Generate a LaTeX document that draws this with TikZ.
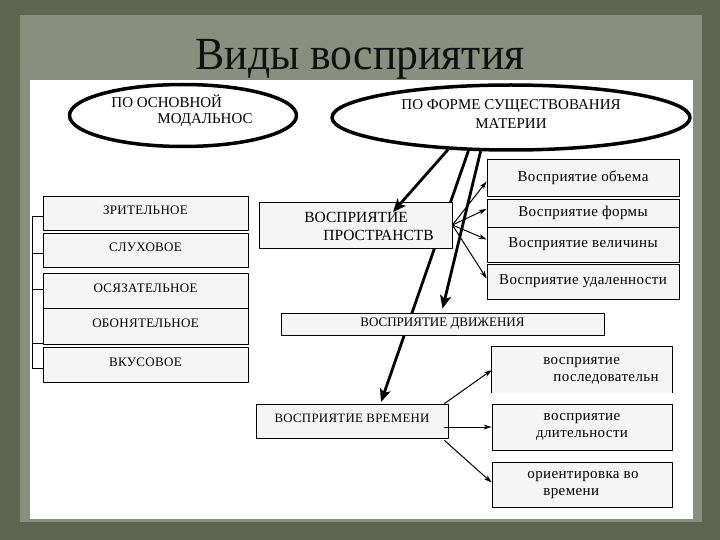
\documentclass[tikz,border=0pt]{standalone}
\usepackage{fontspec}
\setmainfont{Liberation Serif}
\newfontfamily\wideserif[LetterSpace=2.5]{Liberation Serif}
\usetikzlibrary{arrows.meta,shapes.geometric,positioning}
\definecolor{frameDark}{HTML}{5D6450}
\definecolor{paperGray}{HTML}{898E7E}
\definecolor{titleInk}{HTML}{101010}
\definecolor{boxFill}{HTML}{F5F5F5}
\tikzset{
 oval/.style={ellipse, draw, line width=3.5pt, fill=white, inner sep=0pt},
 cell/.style={draw, line width=0.8pt, fill=boxFill, inner sep=0pt},
 lbox/.style={cell, minimum width=205pt, font=\wideserif\fontsize{13}{15}\selectfont, text height=9pt, text depth=6pt},
 rbox/.style={cell, minimum width=192pt, font=\wideserif\fontsize{15}{17}\selectfont},
 tbox/.style={minimum width=180pt, minimum height=46pt, inner sep=0pt},
 tfont/.style={font=\wideserif\fontsize{15}{17}\selectfont},
 heavy/.style={line width=2.8pt, -{Stealth[length=13pt,width=11pt,inset=3pt]}},
 light/.style={line width=1pt, -{Stealth[length=8pt,width=5pt]}}
}
\begin{document}
\begin{tikzpicture}[x=1pt, y=-1pt, line join=round]
 \useasboundingbox (0,0) rectangle (720,540);
 % background and sheet
 \fill[frameDark] (0,0) rectangle (720,540);
 \fill[paperGray] (20,15) rectangle (702,522);
 \node[anchor=base, font=\fontsize{46}{50}\selectfont, text=titleInk, xscale=0.95] (title) at (360,70) {Виды восприятия};
 \fill[white] (30,80) rectangle (693,519);

 % the two ellipses
 \node[oval, minimum width=227pt, minimum height=62pt] (modal) at (183,115.5) {};
 \node[font=\fontsize{15}{16}\selectfont, align=left] (modaltxt) at (182,111) {ПО ОСНОВНОЙ\\\hspace{46pt}МОДАЛЬНОС};
 \node[oval, minimum width=358pt, minimum height=65pt] (matter) at (511,117.5) {};
 \node[font=\fontsize{15}{19}\selectfont, align=center] (mattertxt) at (511,114.5) {ПО ФОРМЕ СУЩЕСТВОВАНИЯ\\МАТЕРИИ};

 % long thick arrow behind the boxes
 \coordinate (tTip) at (381,402);
 \draw[heavy] (matter.218) -- (tTip);

 % by modality
 \node[lbox, minimum height=34pt] (zrit) at (145.5,213) {ЗРИТЕЛЬНОЕ};
 \node[lbox, minimum height=34pt] (sluh) at (145.5,250) {СЛУХОВОЕ};
 \node[lbox, minimum height=35pt] (osyaz) at (145.5,290.5) {ОСЯЗАТЕЛЬНОЕ};
 \node[lbox, minimum height=36pt] (obon) at (145.5,326) {ОБОНЯТЕЛЬНОЕ};
 \node[lbox, minimum height=35pt] (vkus) at (145.5,364.5) {ВКУСОВОЕ};
 \coordinate (spineTop) at (32,216);
 \coordinate (spineBot) at (32,368);
 \draw[line width=0.8pt] (spineTop) -- (spineBot);
 \foreach \b/\s in {zrit/-3, sluh/-3, osyaz/1.5, obon/-17, vkus/-3.5}
  \draw[line width=0.8pt] ([yshift=\s pt]\b.west) -- ++(-11,0);

 % space
 \node[cell, minimum width=193pt, minimum height=46pt] (prostr) at (355.5,225) {};
 \node[font=\fontsize{15.5}{18}\selectfont, align=left] (prostrtxt) at (369,226) {ВОСПРИЯТИЕ\\\hspace{19pt}ПРОСТРАНСТВ};
 \node[rbox, minimum height=37pt] (obyem) at (583,177.5) {Восприятие объема};
 \node[rbox, minimum height=28pt] (forma) at (583,213) {Восприятие формы};
 \node[rbox, minimum height=35pt] (velich) at (583,244.5) {Восприятие величины};
 \node[rbox, minimum height=35pt] (udal) at (583,281.5) {Восприятие удаленности};

 % movement
 \node[cell, minimum width=323pt, minimum height=22pt, font=\fontsize{13}{15}\selectfont] (dvizh) at (442.5,324) {ВОСПРИЯТИЕ ДВИЖЕНИЯ};

 % time
 \node[cell, minimum width=192pt, minimum height=34pt, font=\wideserif\fontsize{12.8}{14}\selectfont, text height=9pt, text depth=6pt] (vrem) at (352,421) {ВОСПРИЯТИЕ ВРЕМЕНИ};
 \node[tbox, fill=boxFill] (posled) at (582,370) {};
 \draw[line width=0.8pt] (posled.south west) -- (posled.north west) -- (posled.north east) -- (posled.south east);
 \node[tfont, align=left] (posledtxt) at (601,370.5) {восприятие\\\hspace{10pt}последовательн};
 \node[tbox, cell, tfont, align=center] (dlit) at (582,427) {восприятие\\длительности};
 \node[tbox, cell, minimum height=45pt] (orient) at (582,484.5) {};
 \node[tfont, align=left] (orienttxt) at (583,485) {ориентировка во\\\hspace{16pt}времени};

 % arrows over the boxes
 \coordinate (pTip) at (393,212);
 \draw[heavy] (matter.207) -- (pTip);
 \draw[heavy] (matter.228) -- ([yshift=4pt]dvizh.north);
 \foreach \t/\s in {obyem/-4, forma/4, velich/5, udal/3}
  \draw[light] (prostr.east) -- ([yshift=\s pt]\t.west);
 \draw[light] ([xshift=-4pt]vrem.north east) -- (posled.west);
 \draw[light] ([xshift=-4pt,yshift=-6pt]vrem.east) -- (dlit.west);
 \draw[light] ([xshift=-4pt,yshift=-2pt]vrem.south east) -- ([yshift=2pt]orient.west);
\end{tikzpicture}
\end{document}
